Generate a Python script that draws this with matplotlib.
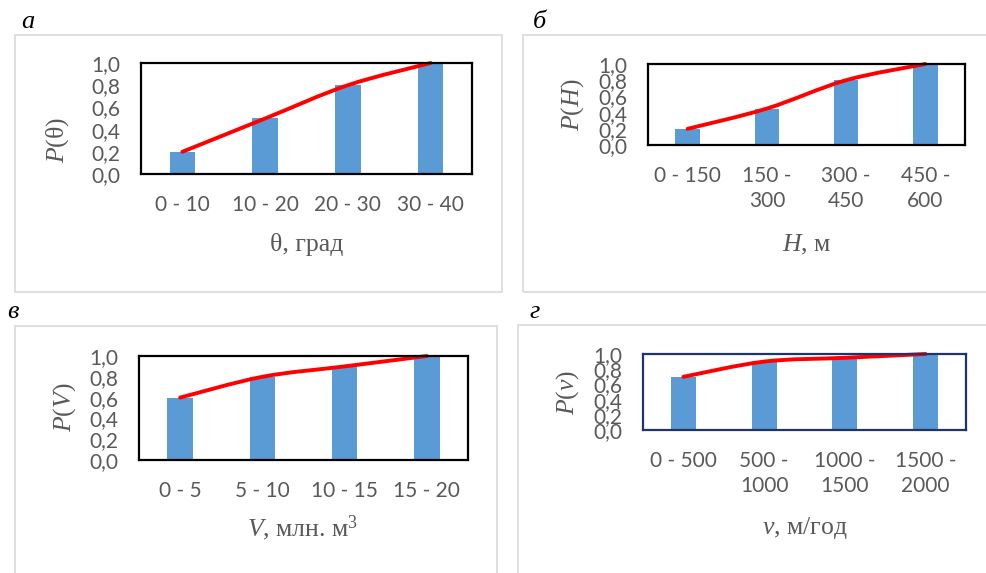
import numpy as np
import matplotlib
matplotlib.use("Agg")
import matplotlib.pyplot as plt
from matplotlib.path import Path
from matplotlib.patches import PathPatch, Rectangle

plt.rcParams['mathtext.fontset'] = 'custom'
plt.rcParams['mathtext.rm'] = 'Liberation Serif'
plt.rcParams['mathtext.it'] = 'Liberation Serif:italic'

# data
cats_a = ["0 - 10", "10 - 20", "20 - 30", "30 - 40"]
vals_a = [0.2, 0.5, 0.8, 1.0]
cats_b = ["0 - 150", "150 -\n300", "300 -\n450", "450 -\n600"]
vals_b = [0.2, 0.45, 0.8, 1.0]
cats_c = ["0 - 5", "5 - 10", "10 - 15", "15 - 20"]
vals_c = [0.6, 0.8, 0.9, 1.0]
cats_d = ["0 - 500", "500 -\n1000", "1000 -\n1500", "1500 -\n2000"]
vals_d = [0.7, 0.9, 0.95, 1.0]
yticks = [0.0, 0.2, 0.4, 0.6, 0.8, 1.0]

W, H = 986, 573
fig = plt.figure(figsize=(W / 100, H / 100), dpi=100)

GRAY = '#595959'
BAR = '#5b9bd5'


def px_rect(x0, y0, x1, y1):
    return [x0 / W, 1 - y1 / H, (x1 - x0) / W, (y1 - y0) / H]


# Excel-style smoothed line through the points (bezier segments)
def smooth_path(x, y):
    pts = np.column_stack([x, y]).astype(float)
    n = len(pts)
    verts = [pts[0]]
    codes = [Path.MOVETO]
    for i in range(n - 1):
        p0 = pts[i - 1] if i > 0 else pts[i]
        p1, p2 = pts[i], pts[i + 1]
        p3 = pts[i + 2] if i + 2 < n else pts[i + 1]
        verts += [p1 + (p2 - p0) / 6, p2 - (p3 - p1) / 6, p2]
        codes += [Path.CURVE4] * 3
    return Path(verts, codes)


# outer frames (light gray)
for fx0, fy0, fx1, fy1 in [(15, 35, 502, 292), (523, 35, 1000, 292),
                           (15, 326, 497, 600), (518, 325, 1000, 600)]:
    fig.patches.append(Rectangle((fx0 / W, 1 - fy1 / H), (fx1 - fx0) / W, (fy1 - fy0) / H,
                                 transform=fig.transFigure, fill=False,
                                 edgecolor='#d9d9d9', lw=1.2))

panels = [
    (cats_a, vals_a, (141, 63, 472, 174), 'black', "а", (21, 28),
     r"$P$(θ)", (58, 140), "θ, град", (307, 245)),
    (cats_b, vals_b, (648, 64, 965, 145), 'black', "б", (533, 28),
     r"$P$($H$)", (573, 105), r"$H$, м", (807, 245)),
    (cats_c, vals_c, (139, 356, 468, 460), 'black', "в", (7, 318),
     r"$P$($V$)", (65, 407), r"$V$, млн. м$^{3}$", (303, 528)),
    (cats_d, vals_d, (643, 354, 966, 430), '#1f3468', "г", (529, 318),
     r"$P$($v$)", (568, 392), r"$v$, м/год", (805, 528)),
]

for cats, vals, rect, edge, letter, lpos, ylab, ypos, xlab, xpos in panels:
    ax = fig.add_axes(px_rect(*rect))
    x = np.arange(len(cats))
    ax.bar(x, vals, width=0.31, color=BAR, zorder=2)
    ax.add_patch(PathPatch(smooth_path(x, vals), fill=False, edgecolor='red',
                           lw=2.8, zorder=3, clip_on=False, capstyle='round'))
    ax.set_xlim(-0.5, len(cats) - 0.5)
    ax.set_ylim(0, 1)
    ax.set_yticks(yticks)
    ax.set_yticklabels([f"{v:.1f}".replace('.', ',') for v in yticks])
    ax.set_xticks(x)
    ax.set_xticklabels(cats, linespacing=1.35)
    ax.tick_params(length=0, labelcolor=GRAY, labelsize=15)
    ax.tick_params(axis='y', pad=15)
    ax.tick_params(axis='x', pad=15)
    for lab in ax.get_xticklabels() + ax.get_yticklabels():
        lab.set_fontfamily('Lato')
    for sp in ax.spines.values():
        sp.set_edgecolor(edge)
        sp.set_linewidth(1.6)
        sp.set_zorder(4)

    fig.text(lpos[0] / W, 1 - lpos[1] / H, letter, fontfamily='Liberation Serif',
             style='italic', fontsize=19, color='black', ha='left', va='baseline')
    fig.text(ypos[0] / W, 1 - ypos[1] / H, ylab, fontfamily='Liberation Serif',
             fontsize=18.5, color=GRAY, rotation=90, ha='center', va='center')
    fig.text(xpos[0] / W, 1 - xpos[1] / H, xlab, fontfamily='Liberation Serif',
             fontsize=18.5, color=GRAY, ha='center', va='center')

fig.savefig("out.png", dpi=100)
